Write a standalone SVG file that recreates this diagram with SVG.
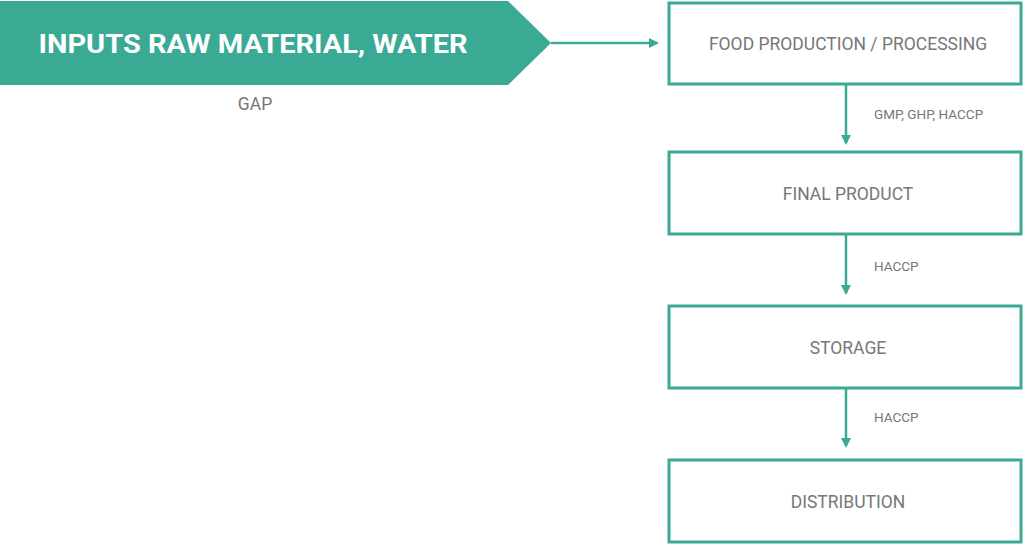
<svg xmlns="http://www.w3.org/2000/svg" width="1024" height="545" viewBox="0 0 1024 545">
<style>
.box{fill:#fff;stroke:#3aaa94;stroke-width:3}
.lbl{font-family:Roboto,"Liberation Sans",sans-serif;font-size:17.5px;fill:#777;text-anchor:middle}
.sm{font-family:Roboto,"Liberation Sans",sans-serif;font-size:13.5px;fill:#777}
.con{stroke:#3aaa94;stroke-width:2.5;fill:none}
</style>
<defs>
<marker id="ah" markerWidth="10" markerHeight="10" refX="8" refY="5" orient="auto" markerUnits="userSpaceOnUse">
<path d="M0,0 L10,5 L0,10 Z" fill="#3aaa94"/>
</marker>
</defs>
<rect width="1024" height="545" fill="#fff"/>
<g id="inputs">
<polygon points="0,1 508,1 551,43 508,85 0,85" fill="#3aaa94"/>
<text x="253" y="53" font-family="Roboto,'Liberation Sans',sans-serif" font-weight="bold" font-size="26" fill="#fff" text-anchor="middle" textLength="429" lengthAdjust="spacingAndGlyphs">INPUTS RAW MATERIAL, WATER</text>
<text x="255" y="110" class="lbl" font-size="16">GAP</text>
</g>
<g id="processing">
<rect x="669" y="3" width="352" height="81" class="box"/>
<text x="848" y="50" class="lbl">FOOD PRODUCTION / PROCESSING</text>
</g>
<g id="final">
<rect x="669" y="152" width="352" height="82" class="box"/>
<text x="848" y="200" class="lbl">FINAL PRODUCT</text>
</g>
<g id="storage">
<rect x="669" y="306" width="352" height="82" class="box"/>
<text x="848" y="354" class="lbl">STORAGE</text>
</g>
<g id="distribution">
<rect x="669" y="460" width="352" height="82" class="box"/>
<text x="848" y="508" class="lbl">DISTRIBUTION</text>
</g>
<g id="connectors">
<line x1="551" y1="43" x2="657" y2="43" class="con" marker-end="url(#ah)"/>
<line x1="846" y1="85" x2="846" y2="143" class="con" marker-end="url(#ah)"/>
<line x1="846" y1="235" x2="846" y2="293" class="con" marker-end="url(#ah)"/>
<line x1="846" y1="389" x2="846" y2="446" class="con" marker-end="url(#ah)"/>
<text x="874" y="119" class="sm">GMP, GHP, HACCP</text>
<text x="874" y="271" class="sm">HACCP</text>
<text x="874" y="422" class="sm">HACCP</text>
</g>
</svg>
